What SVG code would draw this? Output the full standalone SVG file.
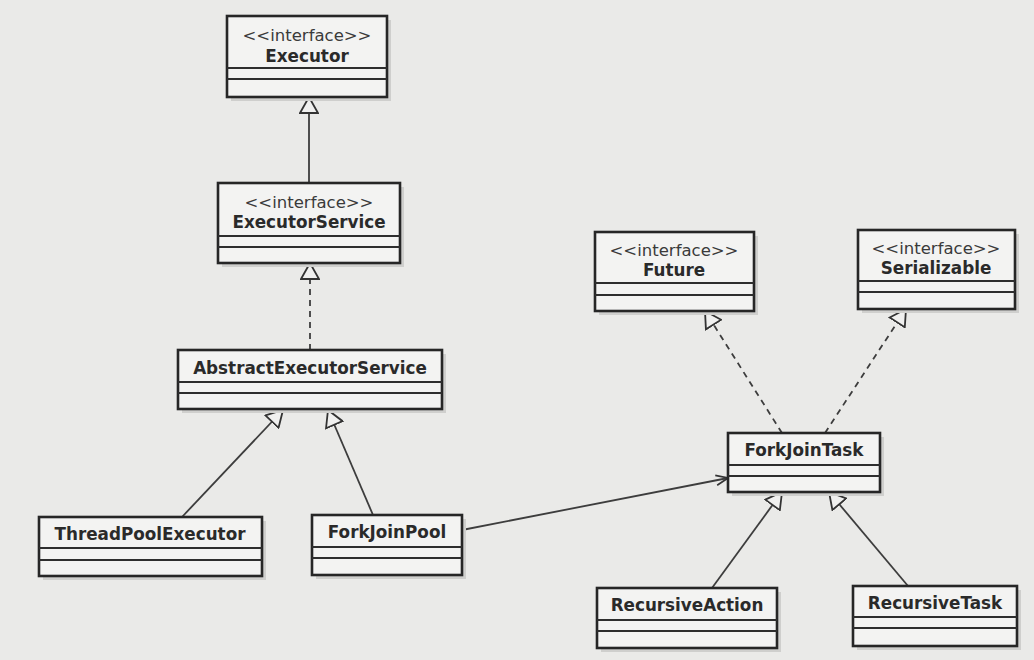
<svg xmlns="http://www.w3.org/2000/svg" width="1034" height="660" viewBox="0 0 1034 660">
<style>
.box{fill:#f3f3f2;stroke:#262626;stroke-width:2.6}
.shadow{fill:#cfcfcd}
.sep{stroke:#2e2e2e;stroke-width:2}
.st{font-family:"DejaVu Sans",sans-serif;font-size:16.5px;fill:#3a3a3a;text-anchor:middle}
.nm{font-family:"DejaVu Sans",sans-serif;font-size:16.8px;font-weight:bold;fill:#2a2a2a;text-anchor:middle}
.c{fill:none;stroke:#3d3d3d;stroke-width:1.8}
.d{stroke-dasharray:6 5}
</style>
<defs>
<marker id="tri" viewBox="0 0 18 20" refX="17" refY="10" markerWidth="18" markerHeight="20" markerUnits="userSpaceOnUse" orient="auto">
<path d="M1,1 L17,10 L1,19 Z" fill="#f0f0ef" stroke="#333" stroke-width="1.8" stroke-dasharray="none"/>
</marker>
<marker id="open" viewBox="0 0 14 12" refX="13" refY="6" markerWidth="14" markerHeight="12" markerUnits="userSpaceOnUse" orient="auto">
<path d="M1,1 L13,6 L1,11" fill="none" stroke="#333" stroke-width="1.6" stroke-dasharray="none"/>
</marker>
</defs>
<rect width="1034" height="660" fill="#eaeae8"/>

<g id="connectors">
<path class="c" d="M309,183 L309,97" marker-end="url(#tri)"/>
<path class="c d" d="M310,350 L310,263" marker-end="url(#tri)"/>
<path class="c" d="M182,517 L283,410" marker-end="url(#tri)"/>
<path class="c" d="M373,515 L328,410" marker-end="url(#tri)"/>
<path class="c d" d="M782,433 L705,311" marker-end="url(#tri)"/>
<path class="c d" d="M825,433 L906,309" marker-end="url(#tri)"/>
<path class="c" d="M462,530 L728,478" marker-end="url(#open)"/>
<path class="c" d="M712,588 L782,492" marker-end="url(#tri)"/>
<path class="c" d="M908,586 L829,492" marker-end="url(#tri)"/>
</g>

<g id="Executor">
<rect class="shadow" x="231" y="20" width="160" height="81"/>
<rect class="box" x="227" y="16" width="160" height="81"/>
<line class="sep" x1="227" y1="68" x2="387" y2="68"/>
<line class="sep" x1="227" y1="79" x2="387" y2="79"/>
<text class="st" x="307" y="41">&lt;&lt;interface&gt;&gt;</text>
<text class="nm" x="307" y="62">Executor</text>
</g>

<g id="ExecutorService">
<rect class="shadow" x="222" y="187" width="182" height="80"/>
<rect class="box" x="218" y="183" width="182" height="80"/>
<line class="sep" x1="218" y1="236" x2="400" y2="236"/>
<line class="sep" x1="218" y1="247" x2="400" y2="247"/>
<text class="st" x="309" y="208">&lt;&lt;interface&gt;&gt;</text>
<text class="nm" x="309" y="228">ExecutorService</text>
</g>

<g id="AbstractExecutorService">
<rect class="shadow" x="182" y="354" width="264" height="59"/>
<rect class="box" x="178" y="350" width="264" height="59"/>
<line class="sep" x1="178" y1="382" x2="442" y2="382"/>
<line class="sep" x1="178" y1="393" x2="442" y2="393"/>
<text class="nm" x="310" y="374">AbstractExecutorService</text>
</g>

<g id="ThreadPoolExecutor">
<rect class="shadow" x="43" y="521" width="223" height="59"/>
<rect class="box" x="39" y="517" width="223" height="59"/>
<line class="sep" x1="39" y1="548" x2="262" y2="548"/>
<line class="sep" x1="39" y1="560" x2="262" y2="560"/>
<text class="nm" x="150" y="540">ThreadPoolExecutor</text>
</g>

<g id="ForkJoinPool">
<rect class="shadow" x="316" y="519" width="150" height="60"/>
<rect class="box" x="312" y="515" width="150" height="60"/>
<line class="sep" x1="312" y1="547" x2="462" y2="547"/>
<line class="sep" x1="312" y1="558" x2="462" y2="558"/>
<text class="nm" x="387" y="538">ForkJoinPool</text>
</g>

<g id="Future">
<rect class="shadow" x="599" y="236" width="159" height="79"/>
<rect class="box" x="595" y="232" width="159" height="79"/>
<line class="sep" x1="595" y1="283" x2="754" y2="283"/>
<line class="sep" x1="595" y1="295" x2="754" y2="295"/>
<text class="st" x="674" y="256">&lt;&lt;interface&gt;&gt;</text>
<text class="nm" x="674" y="276">Future</text>
</g>

<g id="Serializable">
<rect class="shadow" x="862" y="234" width="157" height="79"/>
<rect class="box" x="858" y="230" width="157" height="79"/>
<line class="sep" x1="858" y1="281" x2="1015" y2="281"/>
<line class="sep" x1="858" y1="292" x2="1015" y2="292"/>
<text class="st" x="936" y="254">&lt;&lt;interface&gt;&gt;</text>
<text class="nm" x="936" y="274">Serializable</text>
</g>

<g id="ForkJoinTask">
<rect class="shadow" x="732" y="437" width="152" height="59"/>
<rect class="box" x="728" y="433" width="152" height="59"/>
<line class="sep" x1="728" y1="465" x2="880" y2="465"/>
<line class="sep" x1="728" y1="476" x2="880" y2="476"/>
<text class="nm" x="804" y="456">ForkJoinTask</text>
</g>

<g id="RecursiveAction">
<rect class="shadow" x="601" y="592" width="180" height="60"/>
<rect class="box" x="597" y="588" width="180" height="60"/>
<line class="sep" x1="597" y1="620" x2="777" y2="620"/>
<line class="sep" x1="597" y1="631" x2="777" y2="631"/>
<text class="nm" x="687" y="611">RecursiveAction</text>
</g>

<g id="RecursiveTask">
<rect class="shadow" x="857" y="590" width="164" height="60"/>
<rect class="box" x="853" y="586" width="164" height="60"/>
<line class="sep" x1="853" y1="617" x2="1017" y2="617"/>
<line class="sep" x1="853" y1="628" x2="1017" y2="628"/>
<text class="nm" x="935" y="609">RecursiveTask</text>
</g>
</svg>
